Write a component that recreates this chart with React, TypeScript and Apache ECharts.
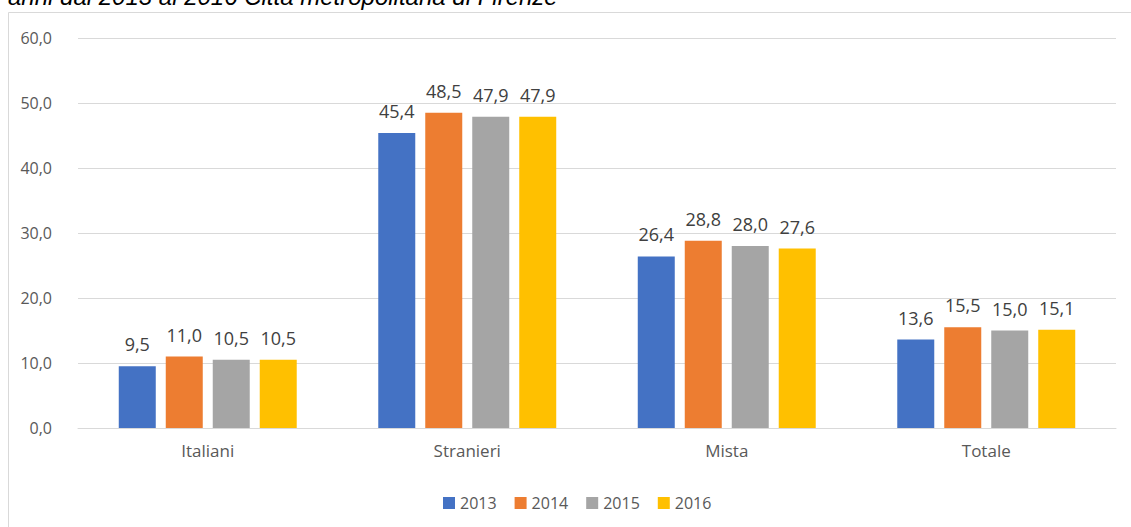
import React, { useEffect, useRef } from "react";
import * as echarts from "echarts";

const categories = ["Italiani", "Stranieri", "Mista", "Totale"];
const years = ["2013", "2014", "2015", "2016"];
const values2013 = [9.5, 45.4, 26.4, 13.6];
const values2014 = [11.0, 48.5, 28.8, 15.5];
const values2015 = [10.5, 47.9, 28.0, 15.0];
const values2016 = [10.5, 47.9, 27.6, 15.1];
const colors = ["#4472C4", "#ED7D31", "#A5A5A5", "#FFC000"];
const titleText = "anni dal 2013 al 2016 Città metropolitana di Firenze";

const fmt = (v: number) => v.toFixed(1).replace(".", ",");

export default function App() {
  const ref = useRef<HTMLDivElement>(null);
  useEffect(() => {
    if (!ref.current) return;
    const chart = echarts.init(ref.current, null, { renderer: "svg" });
    const seriesData = [values2013, values2014, values2015, values2016];
    chart.setOption({
      animation: false,
      backgroundColor: "#ffffff",
      graphic: [
        {
          type: "rect",
          shape: { x: 8.5, y: 12.5, width: 1130, height: 520 },
          style: { fill: "none", stroke: "#d9d9d9", lineWidth: 1 },
          silent: true,
        },
        {
          type: "text",
          x: 8,
          y: 8,
          style: {
            text: titleText,
            font: "italic 24px 'Liberation Sans', Arial, sans-serif",
            fill: "#000000",
            textVerticalAlign: "bottom",
          },
        },
      ],
      legend: {
        data: years,
        left: 438,
        top: 490,
        itemWidth: 12,
        itemHeight: 12,
        itemGap: 18,
        icon: "rect",
        textStyle: { fontFamily: "Open Sans", fontSize: 16, color: "#595959" },
      },
      grid: { left: 78, right: 15, top: 38, bottom: 99, containLabel: false },
      xAxis: {
        type: "category",
        data: categories,
        axisLine: { show: true, lineStyle: { color: "#d9d9d9", width: 1 } },
        axisTick: { show: false },
        axisLabel: {
          fontFamily: "Open Sans",
          fontSize: 17,
          color: "#595959",
          margin: 14,
        },
      },
      yAxis: {
        type: "value",
        min: 0,
        max: 60,
        interval: 10,
        axisLine: { show: false },
        axisTick: { show: false },
        splitLine: { lineStyle: { color: "#d9d9d9", width: 1 } },
        axisLabel: {
          fontFamily: "Open Sans",
          fontSize: 16,
          color: "#595959",
          margin: 26,
          formatter: (v: number) => fmt(v),
        },
      },
      series: years.map((y, i) => ({
        name: y,
        type: "bar",
        data: seriesData[i],
        barWidth: 37,
        barGap: "27%",
        itemStyle: { color: colors[i] },
        label: {
          show: true,
          position: "top",
          distance: 13,
          fontFamily: "Open Sans",
          fontSize: 18,
          color: "#404040",
          formatter: (p: any) => fmt(p.value),
        },
      })),
    });
    return () => chart.dispose();
  }, []);
  return (
    <div
      ref={ref}
      style={{ position: "fixed", left: 0, top: 0, width: 1131, height: 527 }}
    />
  );
}
